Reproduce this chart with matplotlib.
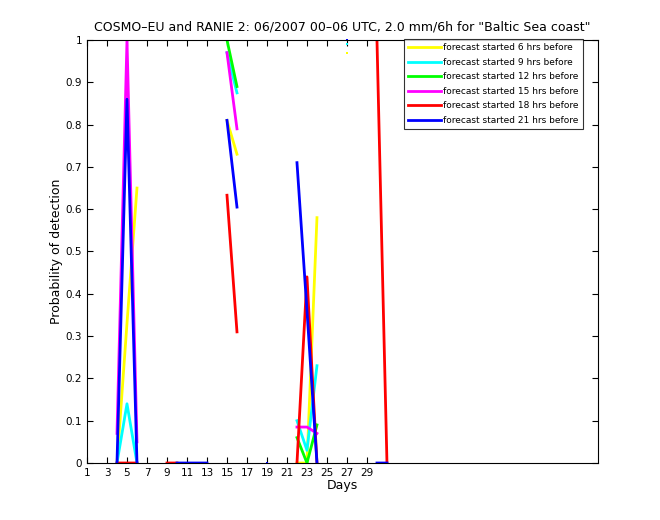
import numpy as np
import matplotlib
matplotlib.use("Agg")
import matplotlib.pyplot as plt

nan = np.nan
days = np.arange(1, 32)

# probability of detection per day, nan = no data
yellow = [nan, nan, nan, 0.0, 0.33, 0.65, nan, nan, nan, nan, nan, nan, nan, nan, 0.81, 0.73,
          nan, nan, nan, nan, nan, 0.0, 0.0, 0.58, nan, nan, 0.97, nan, nan, nan, nan]
cyan = [nan, nan, nan, 0.0, 0.14, 0.0, nan, nan, nan, nan, nan, nan, nan, nan, 0.97, 0.875,
        nan, nan, nan, nan, nan, 0.1, 0.03, 0.23, nan, nan, 0.99, nan, nan, nan, nan]
green = [nan, nan, nan, nan, nan, nan, nan, nan, nan, nan, nan, nan, nan, nan, 1.0, 0.89,
         nan, nan, nan, nan, nan, 0.06, 0.0, 0.09, nan, nan, nan, nan, nan, nan, nan]
magenta = [nan, nan, nan, 0.07, 1.0, 0.05, nan, nan, nan, nan, nan, nan, nan, nan, 0.97, 0.79,
           nan, nan, nan, nan, nan, 0.085, 0.085, 0.07, nan, nan, nan, nan, nan, nan, nan]
red = [nan, nan, nan, 0.0, 0.0, 0.0, nan, nan, 0.0, 0.0, nan, nan, nan, nan, 0.633, 0.31,
       nan, nan, nan, nan, nan, 0.0, 0.44, 0.0, nan, nan, nan, nan, nan, 1.0, 0.0]
blue = [nan, nan, nan, 0.0, 0.86, 0.0, nan, nan, nan, 0.0, 0.0, 0.0, 0.0, nan, 0.81, 0.605,
        nan, nan, 0.0, nan, nan, 0.71, 0.36, 0.0, nan, nan, 1.0, nan, nan, 0.0, 0.0]

series = [yellow, cyan, green, magenta, red, blue]
colors = ['#ffff00', '#00ffff', '#00ff00', '#ff00ff', '#ff0000', '#0000ff']
labels = ['forecast started 6 hrs before', 'forecast started 9 hrs before',
          'forecast started 12 hrs before', 'forecast started 15 hrs before',
          'forecast started 18 hrs before', 'forecast started 21 hrs before']

fig = plt.figure(figsize=(6.6, 5.2), dpi=100)
ax = fig.add_axes([0.1318, 0.1096, 0.7742, 0.8135])

for vals, c, lab in zip(series, colors, labels):
    v = np.array(vals)
    ax.plot(days, v, color=c, lw=2, label=lab)
    # single points between gaps show up as little dots
    iso = []
    for i in range(len(v)):
        left = v[i - 1] if i > 0 else nan
        right = v[i + 1] if i < len(v) - 1 else nan
        if not np.isnan(v[i]) and np.isnan(left) and np.isnan(right):
            iso.append(i)
    if iso:
        ax.plot(days[iso], v[iso], ls='none', marker='s', ms=2, mew=0, color=c, clip_on=False)

ax.set_xlim(1, 52.1)
ax.set_ylim(0, 1)
ax.set_xticks(np.arange(1, 30, 2))
ax.set_yticks(np.arange(0, 1.01, 0.1))
ax.set_yticklabels(['0', '0.1', '0.2', '0.3', '0.4', '0.5', '0.6', '0.7', '0.8', '0.9', '1'])
ax.tick_params(direction='in', labelsize=7.5, length=4, top=True, right=True)
for s in ax.spines.values():
    s.set_linewidth(0.8)

ax.set_xlabel('Days', fontsize=9, labelpad=1)
ax.set_ylabel('Probability of detection', fontsize=9, labelpad=2)
ax.set_title('COSMO\u2013EU and RANIE 2: 06/2007 00\u201306 UTC, 2.0 mm/6h for "Baltic Sea coast"',
             fontsize=9, pad=7)

leg = ax.legend(loc='upper right', bbox_to_anchor=(583 / 660, 1 - 39 / 520),
                bbox_transform=fig.transFigure, fontsize=6.5, frameon=True, fancybox=False,
                edgecolor='black', borderaxespad=0, handlelength=3.6,
                labelspacing=0.62, borderpad=0.45, handletextpad=0.3)
leg.get_frame().set_linewidth(0.8)

fig.savefig('out.png', dpi=100)
